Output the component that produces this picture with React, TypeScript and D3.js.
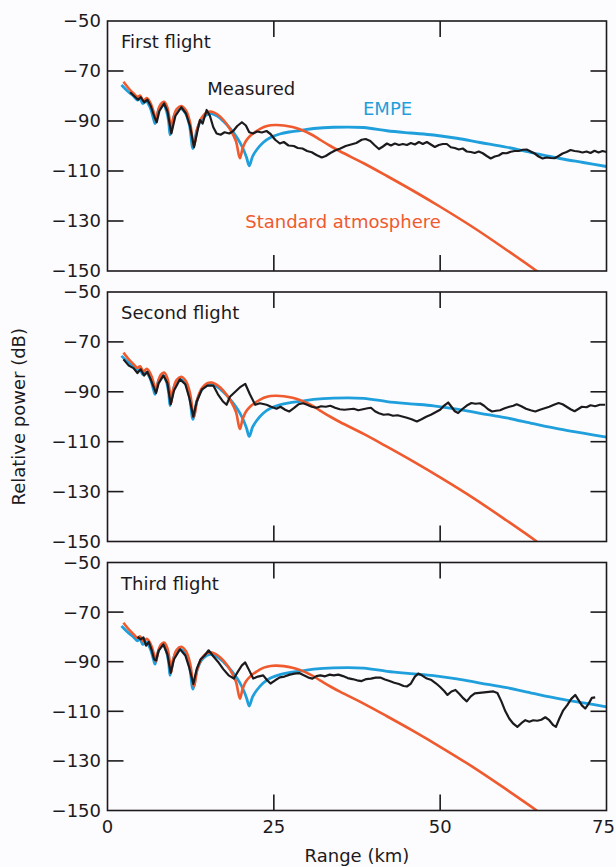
import React from "react";
import * as d3 from "d3";

// ---------- data ----------
const panelTitles = ["First flight", "Second flight", "Third flight"];
const yTicks = [-50, -70, -90, -110, -130, -150];
const xTicks = [0, 25, 50, 75];

// Standard atmosphere model [km, dB]
const standardAtmosphere: [number, number][] = [
  [2.4, -74.3], [3.2, -77.0], [3.9, -78.9], [4.5, -80.4], [4.9, -79.8], [5.4, -81.8], [5.9, -80.8],
  [6.5, -83.0], [7.0, -87.0], [7.3, -89.8], [7.6, -86.0], [8.0, -83.2], [8.5, -82.3], [9.0, -84.6],
  [9.3, -88.8], [9.55, -94.5], [9.9, -89.0], [10.4, -85.2], [11.1, -84.0], [11.8, -85.8], [12.4, -90.5],
  [13.0, -100.0], [13.5, -93.0], [14.2, -88.5], [15.0, -86.5], [15.7, -86.3], [16.5, -87.3],
  [17.5, -89.8], [18.5, -93.6], [19.3, -98.0], [19.9, -104.9], [20.3, -101.0], [20.8, -98.0],
  [21.5, -95.8], [22.4, -94.0], [23.5, -92.4], [24.5, -91.7], [25.4, -91.6], [26.5, -91.8],
  [27.8, -92.4], [28.9, -93.3], [30.5, -95.2], [32.0, -97.6], [33.5, -100.0], [35.0, -102.2],
  [38.5, -106.9], [42.0, -112.0], [46.0, -118.0], [50.0, -124.3], [55.0, -132.6], [60.0, -141.6],
  [64.3, -149.6], [65.0, -151.0],
];

// EMPE model [km, dB]
const empe: [number, number][] = [
  [2.1, -75.6], [3.0, -78.0], [3.9, -80.0], [4.5, -81.6], [4.9, -81.0], [5.3, -83.0], [5.8, -82.2],
  [6.4, -84.6], [6.9, -89.0], [7.15, -91.0], [7.5, -87.0], [7.9, -84.2], [8.4, -83.5], [8.9, -86.3],
  [9.2, -90.5], [9.4, -95.5], [9.8, -90.0], [10.3, -86.2], [11.0, -85.0], [11.7, -86.8], [12.3, -91.5],
  [12.85, -101.0], [13.4, -94.0], [14.1, -89.5], [14.9, -87.5], [15.6, -87.0], [16.5, -88.0],
  [17.5, -90.3], [18.5, -93.2], [19.5, -96.8], [20.3, -100.6], [20.9, -104.6], [21.3, -107.9],
  [21.8, -104.2], [22.4, -101.6], [23.4, -98.6], [24.5, -96.6], [25.9, -95.2], [27.3, -94.4],
  [29.0, -93.8], [31.0, -93.0], [34.0, -92.5], [38.5, -92.6], [42.0, -93.9], [45.5, -94.8],
  [49.0, -95.6], [52.5, -96.9], [56.0, -98.6], [60.0, -100.5], [64.0, -102.8], [68.0, -105.0],
  [71.5, -106.6], [75.0, -108.2],
];

// Measured, first flight [km, dB]
const measuredFirst: [number, number][] = [
  [3.4, -78.5], [4.0, -80.0], [4.6, -81.5], [5.0, -80.5], [5.5, -82.5], [6.0, -81.5], [6.5, -84.0],
  [7.0, -88.0], [7.4, -90.5], [7.8, -86.0], [8.5, -83.0], [9.0, -86.0], [9.6, -95.0], [10.2, -88.0],
  [11.1, -84.5], [11.8, -87.0], [12.4, -92.0], [13.0, -100.5], [13.6, -93.0], [13.9, -89.6],
  [14.3, -91.0], [14.9, -85.6], [15.4, -88.0], [15.9, -92.5], [16.4, -95.0], [17.0, -95.5],
  [17.6, -94.5], [18.3, -95.0], [18.9, -94.0], [19.5, -92.0], [20.2, -90.5], [20.8, -91.8],
  [21.3, -94.5], [21.9, -95.0], [22.5, -94.2], [23.2, -94.6], [23.9, -94.0], [24.5, -95.2],
  [25.2, -97.5], [25.9, -99.0], [26.5, -98.4], [27.2, -99.8], [28.0, -100.0], [28.6, -100.8],
  [29.3, -101.0], [30.0, -102.0], [30.7, -102.5], [31.4, -103.6], [32.2, -104.6], [32.8, -104.0],
  [33.5, -102.8], [34.2, -101.8], [35.0, -101.0], [35.8, -100.0], [36.6, -99.4], [37.4, -98.8],
  [38.2, -97.5], [38.8, -97.2], [39.5, -98.0], [40.2, -99.8], [40.8, -101.2], [41.4, -100.2],
  [42.0, -99.0], [42.6, -99.8], [43.2, -99.0], [43.8, -99.6], [44.4, -99.2], [45.0, -99.6],
  [45.6, -98.8], [46.2, -99.4], [46.8, -98.4], [47.4, -99.2], [48.0, -98.4], [48.6, -99.4],
  [49.2, -100.4], [49.8, -99.6], [50.4, -99.2], [51.0, -99.2], [51.6, -100.5], [52.2, -100.8],
  [52.8, -101.4], [53.4, -101.0], [54.0, -102.2], [54.6, -102.4], [55.2, -102.8], [55.8, -102.2],
  [56.4, -102.9], [57.0, -104.0], [57.6, -105.0], [58.2, -104.2], [58.8, -103.8], [59.4, -102.8],
  [60.0, -102.9], [60.6, -102.3], [61.2, -102.0], [61.8, -102.0], [62.4, -101.5], [63.0, -101.4],
  [63.6, -102.2], [64.2, -103.0], [64.8, -104.2], [65.4, -105.0], [66.0, -104.6], [66.6, -104.8],
  [67.2, -104.9], [67.8, -104.0], [68.4, -103.0], [69.0, -102.4], [69.6, -101.6], [70.2, -102.0],
  [70.8, -102.2], [71.4, -102.6], [72.0, -102.2], [72.6, -102.8], [73.2, -101.9], [73.8, -102.6],
  [74.4, -102.0], [75.0, -102.4],
];

// Measured, second flight [km, dB]
const measuredSecond: [number, number][] = [
  [2.4, -77.0], [3.2, -79.5], [3.9, -80.5], [4.5, -82.5], [5.0, -81.0], [5.5, -83.5], [6.0, -82.0],
  [6.5, -85.0], [7.0, -88.5], [7.3, -90.5], [7.7, -86.5], [8.4, -83.5], [9.0, -86.5], [9.5, -95.0],
  [10.0, -89.5], [10.9, -85.0], [11.7, -87.0], [12.3, -92.5], [12.9, -100.0], [13.4, -94.0],
  [14.2, -89.0], [15.0, -87.5], [15.9, -87.5], [16.6, -91.0], [17.4, -94.0], [17.9, -95.2],
  [18.4, -92.0], [19.2, -90.0], [20.0, -88.0], [20.7, -86.8], [21.4, -91.0], [22.2, -95.2],
  [22.9, -94.6], [23.9, -95.2], [24.6, -96.0], [25.4, -96.8], [26.0, -96.0], [26.7, -97.2],
  [27.3, -97.9], [28.0, -96.5], [28.7, -95.0], [29.4, -94.6], [30.0, -95.2], [30.7, -96.0],
  [31.4, -96.4], [32.1, -95.8], [32.8, -96.0], [33.5, -95.6], [34.2, -96.4], [34.9, -97.0],
  [35.6, -97.2], [36.3, -97.0], [37.0, -96.8], [37.7, -97.4], [38.4, -97.0], [39.1, -96.6],
  [39.6, -96.4], [40.2, -97.8], [40.8, -98.6], [41.5, -99.2], [42.2, -99.0], [42.9, -99.6],
  [43.6, -99.4], [44.3, -99.9], [45.0, -100.4], [45.7, -101.0], [46.5, -101.9], [47.2, -101.0],
  [47.9, -100.0], [48.6, -99.2], [49.3, -98.2], [50.0, -97.2], [50.6, -95.5], [51.2, -94.3],
  [51.7, -96.0], [52.2, -97.8], [52.7, -98.5], [53.3, -97.0], [54.0, -95.5], [54.7, -94.5],
  [55.3, -94.8], [56.0, -94.6], [56.6, -95.6], [57.2, -97.0], [57.8, -97.9], [58.4, -97.6],
  [59.0, -97.4], [59.7, -96.6], [60.4, -96.0], [61.0, -95.6], [61.5, -95.0], [62.2, -95.8],
  [62.9, -96.8], [63.6, -97.4], [64.3, -97.9], [65.0, -97.2], [65.7, -96.6], [66.4, -96.0],
  [67.1, -95.2], [67.8, -94.5], [68.4, -95.0], [69.0, -96.0], [69.6, -97.0], [70.2, -97.8],
  [70.7, -97.0], [71.3, -96.0], [72.0, -96.2], [72.6, -95.4], [73.3, -95.8], [74.0, -95.2],
  [74.8, -95.2],
];

// Measured, third flight [km, dB]
const measuredThird: [number, number][] = [
  [4.5, -80.0], [5.0, -81.0], [5.4, -80.2], [5.8, -83.5], [6.2, -82.0], [6.6, -85.0], [7.0, -89.0],
  [7.3, -89.5], [7.7, -85.5], [8.4, -83.0], [9.0, -87.0], [9.5, -94.5], [10.0, -89.0], [10.9, -85.0],
  [11.7, -87.5], [12.3, -92.5], [12.9, -99.0], [13.4, -93.0], [14.0, -89.0], [14.6, -87.5],
  [15.2, -85.4], [15.8, -87.5], [16.6, -90.0], [17.4, -93.0], [18.2, -95.5], [19.0, -96.8],
  [19.6, -94.0], [20.2, -91.5], [20.7, -90.3], [21.3, -93.5], [21.9, -96.8], [22.6, -96.0],
  [23.4, -95.5], [24.0, -97.5], [24.5, -98.8], [25.2, -97.5], [25.9, -96.3], [26.6, -96.0],
  [27.4, -95.2], [28.1, -94.8], [28.8, -94.6], [29.5, -95.5], [30.2, -96.4], [30.8, -96.8],
  [31.4, -95.8], [32.0, -95.5], [32.7, -95.9], [33.4, -95.2], [34.0, -95.5], [34.7, -95.2],
  [35.4, -95.8], [36.1, -96.6], [36.8, -97.0], [37.5, -97.5], [38.2, -97.8], [38.9, -97.0],
  [39.6, -96.8], [40.3, -96.4], [41.0, -96.4], [41.7, -97.2], [42.4, -97.8], [43.1, -98.5],
  [43.8, -99.0], [44.5, -99.8], [45.0, -100.0], [45.6, -98.8], [46.2, -96.0], [46.7, -94.8],
  [47.3, -95.6], [48.0, -96.8], [48.7, -97.4], [49.4, -98.8], [50.0, -100.2], [50.6, -101.8],
  [51.1, -103.4], [51.7, -102.0], [52.3, -101.4], [52.9, -103.0], [53.5, -104.8], [54.0, -106.0],
  [54.6, -104.0], [55.2, -102.8], [55.9, -102.6], [56.6, -102.4], [57.3, -102.2], [58.0, -102.0],
  [58.6, -102.6], [59.2, -106.0], [59.8, -110.0], [60.4, -113.0], [61.0, -115.0], [61.6, -116.3],
  [62.2, -114.8], [62.8, -113.6], [63.4, -114.2], [64.0, -113.6], [64.6, -113.8], [65.2, -113.4],
  [65.8, -112.4], [66.4, -113.6], [67.0, -115.6], [67.4, -116.3], [67.9, -113.0], [68.5, -109.6],
  [69.1, -107.5], [69.7, -105.0], [70.3, -103.4], [70.8, -105.5], [71.3, -107.6], [71.8, -108.9],
  [72.3, -107.0], [72.8, -104.6], [73.3, -104.4],
];

const measuredSeries = [measuredFirst, measuredSecond, measuredThird];

// ---------- layout ----------
const W = 616;
const H = 867;
const X0 = 107.5;
const X1 = 606.5;
const PANEL_TOP = [21, 292, 562.5];
const PANEL_BOTTOM = [271, 541.5, 810.5];
const FONT = "'DejaVu Sans', sans-serif";
const FS = 18;
const RED = "#ef5a2e";
const BLUE = "#1f9fdb";
const INK = "#1c1a1c";
const TICK = 16;

const fmt = (v: number) => (v < 0 ? "\u2212" + Math.abs(v) : String(v));

export default function App() {
  const x = d3.scaleLinear().domain([0, 75]).range([X0, X1]);
  const lineGen = (y: d3.ScaleLinear<number, number>, curve: d3.CurveFactory) =>
    d3
      .line<[number, number]>()
      .x((d) => x(d[0]))
      .y((d) => y(d[1]))
      .curve(curve);

  return (
    <svg
      width={W}
      height={H}
      style={{ position: "absolute", left: 0, top: 0, background: "#fcfbfd" }}
      fontFamily={FONT}
    >
      {panelTitles.map((title, i) => {
        const y = d3.scaleLinear().domain([-50, -150]).range([PANEL_TOP[i], PANEL_BOTTOM[i]]);
        const top = PANEL_TOP[i];
        const bottom = PANEL_BOTTOM[i];
        const clipId = `clip${i}`;
        const model = lineGen(y, d3.curveCatmullRom.alpha(0.5));
        const meas = lineGen(y, d3.curveLinear);
        return (
          <g key={title}>
            <defs>
              <clipPath id={clipId}>
                <rect x={X0} y={top} width={X1 - X0} height={bottom - top} />
              </clipPath>
            </defs>
            <g clipPath={`url(#${clipId})`}>
              <path d={model(empe) || ""} fill="none" stroke={BLUE} strokeWidth={2.8} strokeLinejoin="round" />
              <path d={model(standardAtmosphere) || ""} fill="none" stroke={RED} strokeWidth={2.6} strokeLinejoin="round" />
              <path d={meas(measuredSeries[i]) || ""} fill="none" stroke={INK} strokeWidth={2.2} strokeLinejoin="round" />
            </g>
            {/* frame */}
            <rect x={X0} y={top} width={X1 - X0} height={bottom - top} fill="none" stroke={INK} strokeWidth={1.6} />
            {/* y ticks */}
            {yTicks.map((t) => (
              <g key={t}>
                {t !== -50 && t !== -150 && (
                  <>
                    <line x1={X0} x2={X0 + TICK} y1={y(t)} y2={y(t)} stroke={INK} strokeWidth={1.6} />
                    <line x1={X1} x2={X1 - TICK} y1={y(t)} y2={y(t)} stroke={INK} strokeWidth={1.6} />
                  </>
                )}
                <text x={101} y={y(t)} dy="0.36em" textAnchor="end" fontSize={FS} fill={INK}>
                  {fmt(t)}
                </text>
              </g>
            ))}
            {/* x ticks */}
            {xTicks.slice(1, 3).map((t) => (
              <g key={t}>
                <line x1={x(t)} x2={x(t)} y1={top} y2={top + TICK} stroke={INK} strokeWidth={1.6} />
                <line x1={x(t)} x2={x(t)} y1={bottom} y2={bottom - TICK} stroke={INK} strokeWidth={1.6} />
              </g>
            ))}
            <text x={121} y={top + 27} fontSize={FS} fill={INK}>
              {title}
            </text>
            {i === 0 && (
              <>
                <text x={x(15)} y={y(-79.6)} fontSize={FS} fill={INK}>Measured</text>
                <text x={x(38.4)} y={y(-87.6)} fontSize={FS} fill={BLUE}>EMPE</text>
                <text x={x(20.7)} y={y(-132.8)} fontSize={FS} fill={RED}>Standard atmosphere</text>
              </>
            )}
            {i === 2 &&
              xTicks.map((t, k) => (
                <text
                  key={t}
                  x={k === xTicks.length - 1 ? W - 1 : x(t)}
                  y={833}
                  textAnchor={k === xTicks.length - 1 ? "end" : "middle"}
                  fontSize={FS}
                  fill={INK}
                >
                  {t}
                </text>
              ))}
          </g>
        );
      })}
      <text x={(X0 + X1) / 2} y={862} textAnchor="middle" fontSize={FS} fill={INK}>
        Range (km)
      </text>
      <text
        transform={`translate(25, ${(PANEL_TOP[1] + PANEL_BOTTOM[1]) / 2}) rotate(-90)`}
        textAnchor="middle"
        fontSize={FS}
        fill={INK}
      >
        Relative power (dB)
      </text>
    </svg>
  );
}
